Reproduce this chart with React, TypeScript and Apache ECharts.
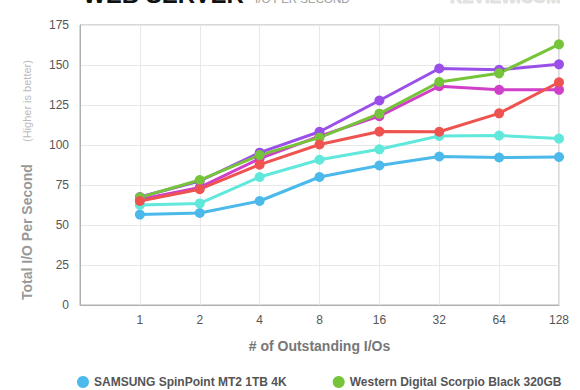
import React, { useEffect, useRef } from "react";
import * as echarts from "echarts";

const categories = ["", "1", "2", "4", "8", "16", "32", "64", "128"];
const yTicks = { min: 0, max: 175, interval: 25 };

const samsungMT2 = [56.5, 57.5, 65, 80, 87.2, 92.8, 92.2, 92.5];
const cyanSeries = [62.5, 63.5, 80, 90.8, 97.3, 105.6, 105.9, 104];
const magentaSeries = [66, 73.5, 91.5, 105.5, 118, 136.7, 134.5, 134.5];
const purpleSeries = [67.5, 77.5, 95.2, 108.3, 127.8, 147.8, 147, 150.4];
const wdScorpioBlack = [67.3, 78.1, 93.7, 104.6, 119.6, 139.4, 144.8, 162.9];
const redSeries = [65, 72.4, 87.7, 100.3, 108.4, 108.3, 119.8, 139.2];

const seriesDefs = [
  { name: "SAMSUNG SpinPoint MT2 1TB 4K", data: samsungMT2, color: "#4bb9ea" },
  { name: "Drive B", data: cyanSeries, color: "#5fe8db" },
  { name: "Drive C", data: magentaSeries, color: "#d03fc8" },
  { name: "Drive D", data: purpleSeries, color: "#9b4fe9" },
  { name: "Western Digital Scorpio Black 320GB", data: wdScorpioBlack, color: "#76c43a" },
  { name: "Drive F", data: redSeries, color: "#ef5350" },
];
const legendNames = ["SAMSUNG SpinPoint MT2 1TB 4K", "Western Digital Scorpio Black 320GB"];

const FONT = "'Liberation Sans', Arial, Helvetica, sans-serif";

export default function App() {
  const ref = useRef<HTMLDivElement>(null);
  useEffect(() => {
    if (!ref.current) return;
    const chart = echarts.init(ref.current, null, { renderer: "svg" });
    chart.setOption({
      animation: false,
      backgroundColor: "#ffffff",
      textStyle: { fontFamily: FONT },
      grid: {
        left: 80,
        right: 21,
        top: 25,
        bottom: 85,
        show: true,
        borderColor: "#b0b0b0",
        borderWidth: 1,
      },
      legend: {
        data: legendNames,
        left: 72,
        top: 371,
        icon: "circle",
        itemWidth: 12,
        itemHeight: 12,
        itemGap: 46,
        textStyle: { fontSize: 12, fontWeight: "bold", color: "#555", fontFamily: FONT },
      },
      xAxis: {
        type: "category",
        data: categories,
        boundaryGap: false,
        axisLine: { lineStyle: { color: "#b0b0b0" } },
        axisTick: { show: false },
        axisLabel: { color: "#555", fontSize: 12, margin: 9, interval: 0, fontFamily: FONT },
        splitLine: { show: true, lineStyle: { color: "#e8e8e8" } },
        name: "# of Outstanding I/Os",
        nameLocation: "middle",
        nameGap: 34,
        nameTextStyle: { color: "#777", fontSize: 14, fontWeight: "bold", fontFamily: FONT },
      },
      yAxis: {
        type: "value",
        min: yTicks.min,
        max: yTicks.max,
        interval: yTicks.interval,
        axisLine: { show: true, lineStyle: { color: "#b0b0b0" } },
        axisTick: { show: false },
        axisLabel: { color: "#555", fontSize: 12, margin: 11, fontFamily: FONT },
        splitLine: { show: true, lineStyle: { color: "#e8e8e8" } },
      },
      graphic: [
        {
          type: "text",
          x: 83,
          y: 6,
          style: {
            text: "WEB SERVER",
            fill: "#111",
            font: `bold 24px ${FONT}`,
            textAlign: "left",
            textVerticalAlign: "bottom",
          },
        },
        {
          type: "text",
          x: 255,
          y: 5,
          style: {
            text: "I/O PER SECOND",
            fill: "#999",
            font: `11.5px ${FONT}`,
            textAlign: "left",
            textVerticalAlign: "bottom",
          },
        },
        {
          type: "text",
          x: 450,
          y: 6,
          style: {
            text: "REVIEW.COM",
            fill: "#e2e2e2",
            stroke: "#c8c8c8",
            lineWidth: 0.6,
            font: `bold 17px ${FONT}`,
            textAlign: "left",
            textVerticalAlign: "bottom",
          },
        },
        {
          type: "text",
          x: 27,
          y: 300,
          rotation: Math.PI / 2,
          style: {
            text: "Total I/O Per Second",
            fill: "#999",
            font: `bold 14px ${FONT}`,
            textAlign: "left",
            textVerticalAlign: "middle",
          },
        },
        {
          type: "text",
          x: 27,
          y: 142,
          rotation: Math.PI / 2,
          style: {
            text: "(Higher is better)",
            fill: "#bbb",
            font: `11px ${FONT}`,
            textAlign: "left",
            textVerticalAlign: "middle",
          },
        },
      ],
      series: seriesDefs.map((s) => ({
        name: s.name,
        type: "line",
        data: [null, ...s.data],
        symbol: "circle",
        symbolSize: 10,
        showSymbol: true,
        connectNulls: false,
        itemStyle: { color: s.color },
        lineStyle: { color: s.color, width: 3 },
        emphasis: { disabled: true },
      })),
    });
    return () => chart.dispose();
  }, []);
  return <div ref={ref} style={{ width: 580, height: 390, position: "absolute", left: 0, top: 0 }} />;
}
